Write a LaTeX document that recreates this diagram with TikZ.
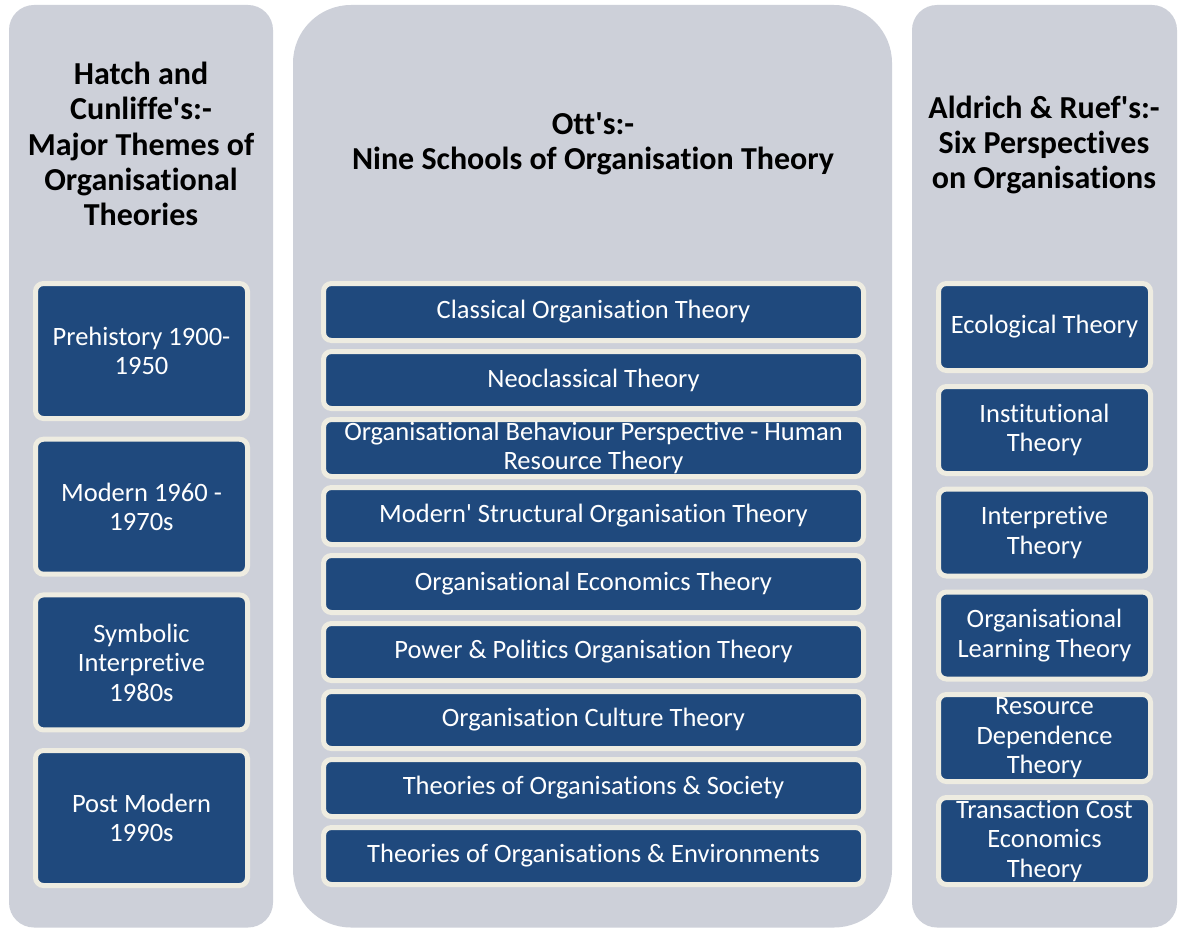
\documentclass[tikz,border=0pt]{standalone}
\usepackage{fontspec}
\setmainfont{Carlito}[Ligatures={NoCommon,NoContextual},Contextuals=NoAlternate]
\newcommand{\ap}{\textquotesingle}
\definecolor{panelgray}{HTML}{CDD0D9}
\definecolor{boxblue}{HTML}{1F497D}
\definecolor{cream}{HTML}{EEECE1}
\begin{document}
\begin{tikzpicture}[x=1pt,y=-1pt,
  panel/.style={fill=panelgray,draw=none},
  ttl/.style={font=\fontsize{32}{35.3}\selectfont\bfseries,align=center,text=black,inner sep=0},
  bx/.style={draw=cream,fill=boxblue,line width=5pt,rounded corners=8pt,
    text=white,align=center,inner sep=0,outer sep=0,
    font=\fontsize{26.5}{29.5}\selectfont},
  lbox/.style={bx,minimum width=212pt,minimum height=135pt},
  mbox/.style={bx,minimum width=540pt,minimum height=57pt},
  rbox/.style={bx,minimum width=212pt,minimum height=87pt}]
\useasboundingbox (0,0) rectangle (1182,928);
\fill[white] (0,0) rectangle (1182,928);
% panels
\fill[panel,rounded corners=25pt] (9,5) rectangle (273,927.5);
\fill[panel,rounded corners=58pt] (293,5) rectangle (892,927.5);
\fill[panel,rounded corners=25pt] (912,5) rectangle (1177,927.5);
% titles
\node[ttl] (tl) at (141,144) {Hatch and\\Cunliffe\ap s:-\\Major Themes of\\Organisational\\Theories};
\node[ttl] (tm) at (593,144) {Ott\ap s:-\\Nine Schools of Organisation Theory};
\node[ttl] (tr) at (1044,145) {Aldrich \& Ruef\ap s:-\\Six Perspectives\\on Organisations};
% left boxes
\node[lbox] (l1) at (141.5,351) {Prehistory 1900-\\1950};
\node[lbox] (l2) at (141.5,506.7) {Modern 1960 -\\1970s};
\node[lbox] (l3) at (141.5,662.4) {Symbolic\\Interpretive\\1980s};
\node[lbox] (l4) at (141.5,818) {Post Modern\\1990s};
% middle boxes
\node[mbox] (m1) at (593.5,312) {Classical Organisation Theory};
\node[mbox] (m2) at (593.5,380) {Neoclassical Theory};
\node[mbox] (m3) at (593.5,448) {Organisational Behaviour Perspective - Human\\Resource Theory};
\node[mbox] (m4) at (593.5,516) {Modern\ap\ Structural Organisation Theory};
\node[mbox] (m5) at (593.5,584) {Organisational Economics Theory};
\node[mbox] (m6) at (593.5,652) {Power \& Politics Organisation Theory};
\node[mbox] (m7) at (593.5,720) {Organisation Culture Theory};
\node[mbox] (m8) at (593.5,788) {Theories of Organisations \& Society};
\node[mbox] (m9) at (593.5,856) {Theories of Organisations \& Environments};
% right boxes
\node[rbox] (r1) at (1044.5,327) {Ecological Theory};
\node[rbox] (r2) at (1044.5,430) {Institutional\\Theory};
\node[rbox] (r3) at (1044.5,532.5) {Interpretive\\Theory};
\node[rbox] (r4) at (1044.5,635.5) {Organisational\\Learning Theory};
\node[rbox] (r5) at (1044.5,738) {Resource\\Dependence\\Theory};
\node[rbox] (r6) at (1044.5,841) {Transaction Cost\\Economics\\Theory};
\end{tikzpicture}
\end{document}
